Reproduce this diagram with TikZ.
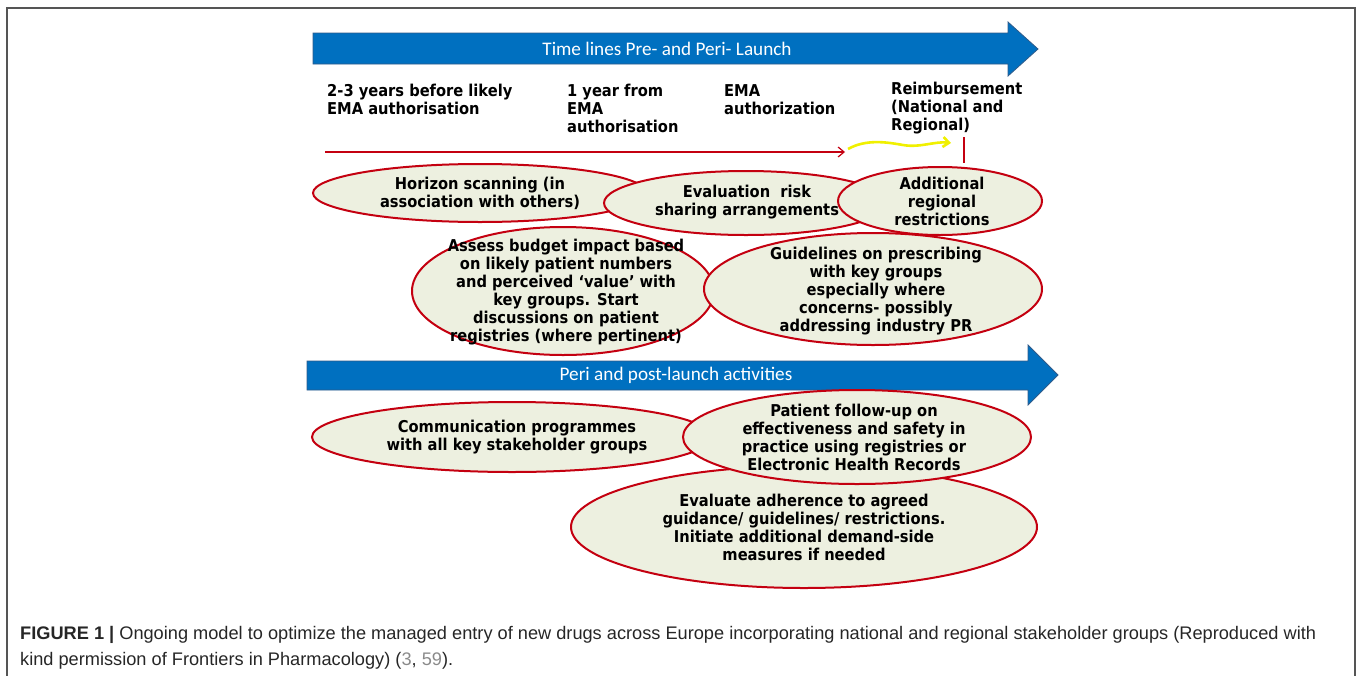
\documentclass[tikz,border=0pt]{standalone}
\usepackage{fontspec}
\setmainfont{DejaVu Sans}
\newfontfamily\condfont{DejaVu Sans Condensed}
\newfontfamily\capfont{Liberation Sans}
\newfontfamily\arrfont{Carlito}
\usetikzlibrary{shapes.geometric,arrows.meta}
\definecolor{ellred}{HTML}{C40010}
\definecolor{ellfill}{HTML}{EDF0E0}
\definecolor{arrblue}{HTML}{0070C0}
\definecolor{arrdark}{HTML}{2F5B8A}
\definecolor{framegray}{HTML}{555555}
\definecolor{linkgray}{HTML}{8A8A8A}
\definecolor{yel}{HTML}{F0F000}
\begin{document}
\begin{tikzpicture}[x=1pt,y=-1pt,
  ell/.style={ellipse, draw=ellred, line width=2pt, fill=ellfill, inner sep=0pt},
  etext/.style={inner sep=0pt, align=center, font=\condfont\bfseries\fontsize{16.3}{18}\selectfont},
  lab/.style={anchor=north west, inner sep=0pt, align=left,
    font=\condfont\bfseries\fontsize{16.3}{18}\selectfont},
  barrow/.style={fill=arrblue, draw=arrdark, line width=0.8pt},
  btext/.style={text=white, inner sep=0pt, font=\arrfont\fontsize{19.2}{22}\selectfont},
  tline/.style={draw=ellred, line width=1.2pt},
  captext/.style={anchor=base west, inner sep=0pt, font=\capfont\fontsize{18.2}{22}\selectfont, text=black!85}
]
\useasboundingbox (0,0) rectangle (1357,675);
% frame
\draw[framegray, line width=1.5pt] (7,676) -- (7,8) -- (1355,8) -- (1355,676);

% top blue arrow
\path[barrow] (313,33) -- (1008,33) -- (1008,22) -- (1038,49) -- (1008,76) -- (1008,64) -- (313,64) -- cycle;
\node[btext] (t1) at (667,49) {Time lines Pre- and Peri- Launch};

% timeline labels
\node[lab] (l1) at (327,84) {2-3 years before likely\\EMA authorisation};
\node[lab] (l2) at (567,84) {1 year from\\EMA\\authorisation};
\node[lab] (l3) at (724,84) {EMA\\authorization};
\node[lab] (l4) at (891,82) {Reimbursement\\(National and\\Regional)};

% timeline arrows
\coordinate (ra) at (325,152);
\coordinate (rb) at (845,152);
\draw[tline, -{Straight Barb[length=6pt,width=10pt]}] (ra) -- (rb);
\coordinate (ya) at (848,149);
\coordinate (yb) at (951,143);
\draw[yel, line width=2.6pt, -{Straight Barb[length=6pt,width=10pt]}] (ya) .. controls (866,139) and (886,142) .. (903,145) .. controls (920,148) and (935,141) .. (yb);
\coordinate (ta) at (964,137);
\coordinate (tb) at (964,163);
\draw[tline, line width=1.5pt] (ta) -- (tb);

% upper ellipses
\node[ell, minimum width=334pt, minimum height=58pt] (e1) at (480,193) {};
\node[etext] (e1t) at (480,193) {Horizon scanning (in\\association with others)};
\node[ell, minimum width=284pt, minimum height=64pt] (e2) at (746,203) {};
\node[etext] (e2t) at (747,202) {Evaluation~ risk\\sharing arrangements};
\node[ell, minimum width=204pt, minimum height=68pt] (e3) at (940,201) {};
\node[etext] (e3t) at (942,201) {Additional\\regional\\restrictions};
\node[ell, minimum width=302pt, minimum height=128pt] (e4) at (563,291) {};
\node[etext] (e4t) at (566,292) {Assess budget impact based\\on likely patient numbers\\and perceived ‘value’ with\\key groups. Start\\discussions on patient\\registries (where pertinent)};
\node[ell, minimum width=338pt, minimum height=112pt] (e5) at (873,289) {};
\node[etext] (e5t) at (876,291) {Guidelines on prescribing\\with key groups\\especially where\\concerns- possibly\\addressing industry PR};

% second blue arrow
\path[barrow] (307,361) -- (1028,361) -- (1028,345) -- (1058,375) -- (1028,405) -- (1028,390) -- (307,390) -- cycle;
\node[btext] (t2) at (676,375) {Peri and post-launch activities};

% lower ellipses
\node[ell, minimum width=400pt, minimum height=70pt] (e6) at (512,437) {};
\node[etext] (e6t) at (517,437) {Communication programmes\\with all key stakeholder groups};
\node[ell, minimum width=466pt, minimum height=122pt] (e8) at (804,527) {};
\node[etext] (e8t) at (804,527) {Evaluate adherence to agreed\\guidance/ guidelines/ restrictions.\\Initiate additional demand-side\\measures if needed};
\node[ell, minimum width=348pt, minimum height=94pt] (e7) at (857,437) {};
\node[etext] (e7t) at (854,437) {Patient follow-up on\\effectiveness and safety in\\practice using registries or\\Electronic Health Records};

% caption
\node[captext] (c1) at (20,639) {\textbf{FIGURE 1 |} Ongoing model to optimize the managed entry of new drugs across Europe incorporating national and regional stakeholder groups (Reproduced with};
\node[captext] (c2) at (20,665) {kind permission of Frontiers in Pharmacology) ({\color{linkgray}3}, {\color{linkgray}59}).};
\end{tikzpicture}
\end{document}
